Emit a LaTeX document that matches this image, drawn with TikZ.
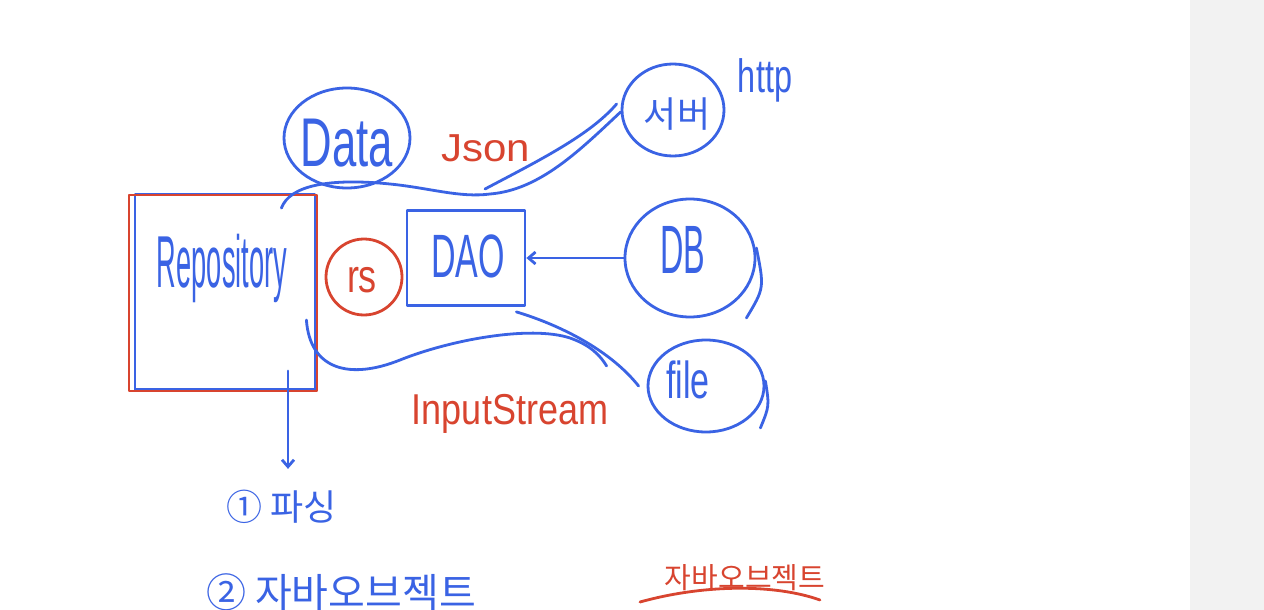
\documentclass[tikz,border=0pt]{standalone}
\usepackage{fontspec}
\setmainfont{Liberation Sans}
\newfontfamily\kor{Noto Sans CJK KR}
\usetikzlibrary{shapes.geometric,arrows.meta}
\definecolor{pen}{HTML}{3A63E4}
\definecolor{redpen}{HTML}{D8442F}
\tikzset{
  blueline/.style={draw=pen,line width=2.8pt,line cap=round,line join=round},
  redline/.style={draw=redpen,line width=2.8pt,line cap=round,line join=round},
  bubble/.style={ellipse,blueline,inner sep=0pt},
  bluetext/.style={text=pen,inner sep=0pt},
  redtext/.style={text=redpen,inner sep=0pt},
  barb/.style={-{Straight Barb[length=7pt,width=12pt]}}
}
\begin{document}
\begin{tikzpicture}[x=1pt,y=-1pt]
\useasboundingbox (0,0) rectangle (1264,610);
\fill[white] (0,0) rectangle (1190,610);
\fill[black!5] (1190,0) rectangle (1264,610);

% Repository box
\node[blueline,minimum width=180pt,minimum height=195pt,inner sep=0pt] (repo) at (225,292) {};
\node[redline,minimum width=188pt,minimum height=196pt,inner sep=0pt] (repor) at (223,293) {};
\node[bluetext,font=\fontsize{32}{32}\selectfont] (repotxt) at (222,268) {\scalebox{0.85}[2.3]{Repository}};

% Data
\node[bubble,minimum width=126pt,minimum height=100pt] (data) at (347,138) {};
\node[bluetext,font=\fontsize{46}{46}\selectfont] (datatxt) at (347,143) {\scalebox{0.95}[1.5]{Data}};

% server
\node[bubble,minimum width=102pt,minimum height=92pt] (server) at (673,110) {};
\node[bluetext,font=\kor\fontsize{36}{36}\selectfont] (servertxt) at (677,114) {서버};
\node[bluetext,font=\fontsize{36}{36}\selectfont] (http) at (765,80) {\scalebox{0.9}[1.3]{http}};

% DB
\node[bubble,minimum width=130pt,minimum height=118pt] (db) at (690,258) {};
\node[bluetext,font=\fontsize{36}{36}\selectfont] (dbtxt) at (683,250) {\scalebox{0.9}[1.9]{DB}};
\draw[blueline] ([yshift=10pt]db.east) .. controls ([xshift=8pt,yshift=-30pt]db.east) .. ([xshift=-10pt,yshift=-60pt]db.east);

% file
\node[bubble,minimum width=116pt,minimum height=92pt] (file) at (706,386) {};
\node[bluetext,font=\fontsize{40}{40}\selectfont] (filetxt) at (688,380) {\scalebox{0.85}[1.3]{file}};
\draw[blueline] ([yshift=5pt]file.east) .. controls ([xshift=4pt,yshift=-20pt]file.east) .. ([xshift=-5pt,yshift=-42pt]file.east);

% DAO
\node[blueline,minimum width=118pt,minimum height=95pt,inner sep=0pt] (dao) at (466,258) {};
\node[bluetext,font=\fontsize{34}{34}\selectfont] (daotxt) at (468,256) {\scalebox{1}[1.8]{DAO}};

% rs
\node[circle,redline,minimum size=76pt,inner sep=0pt] (rs) at (364,277) {};
\node[redtext,font=\fontsize{36}{36}\selectfont] (rstxt) at (362,280) {\scalebox{1}[1.3]{rs}};

% JSON curve
\coordinate (jmid) at (490,194);
\draw[blueline] ([xshift=-35pt,yshift=-15pt]repo.north east) .. controls (290,185) and (330,178) .. (390,184)
   .. controls (430,188) and (460,198) .. (jmid) .. controls (540,190) and (580,150) .. ([yshift=-2pt]server.west);
\draw[blueline] ([xshift=-5pt,yshift=5pt]jmid) .. controls (540,160) and (590,135) .. ([xshift=-4pt,yshift=6pt]server.west);
\node[redtext,font=\fontsize{30}{30}\selectfont] (json) at (486,148) {\scalebox{1.4}[1.3]{Json}};

% DB -> DAO
\draw[blueline,barb] (db.west) -- (dao.east);

% InputStream curve
\draw[blueline] ([xshift=-10pt,yshift=-28pt]repo.east) .. controls (310,370) and (350,380) .. (400,360)
   .. controls (450,340) and (530,325) .. (570,338) .. controls (590,345) and (600,355) .. ([xshift=-40pt,yshift=20pt]file.west);
\draw[blueline] ([xshift=-10pt,yshift=-5pt]dao.south east) .. controls (560,325) and (610,350) .. ([xshift=-8pt]file.west);
\node[redtext,font=\fontsize{36}{36}\selectfont] (instream) at (510,414) {\scalebox{1}[1.2]{InputStream}};

% arrow down from repo
\draw[blueline,barb] ([xshift=63pt,yshift=20pt]repo.south) -- ([xshift=63pt,yshift=-78pt]repo.south);

% bottom notes
\node[bluetext,font=\kor\fontsize{36}{36}\selectfont,anchor=west] (note1) at (226,507) {① 파싱};
\node[bluetext,font=\kor\fontsize{40}{40}\selectfont,anchor=west] (note2) at (206,592) {② 자바오브젝트};

% red note
\node[redtext,font=\kor\fontsize{29}{29}\selectfont] (rednote) at (745,578) {자바오브젝트};
\draw[redline] ([xshift=-105pt,yshift=-24pt]rednote.center) .. controls ([xshift=-40pt,yshift=-6pt]rednote.center) and ([xshift=30pt,yshift=-6pt]rednote.center) .. ([xshift=75pt,yshift=-22pt]rednote.center);
\end{tikzpicture}
\end{document}
